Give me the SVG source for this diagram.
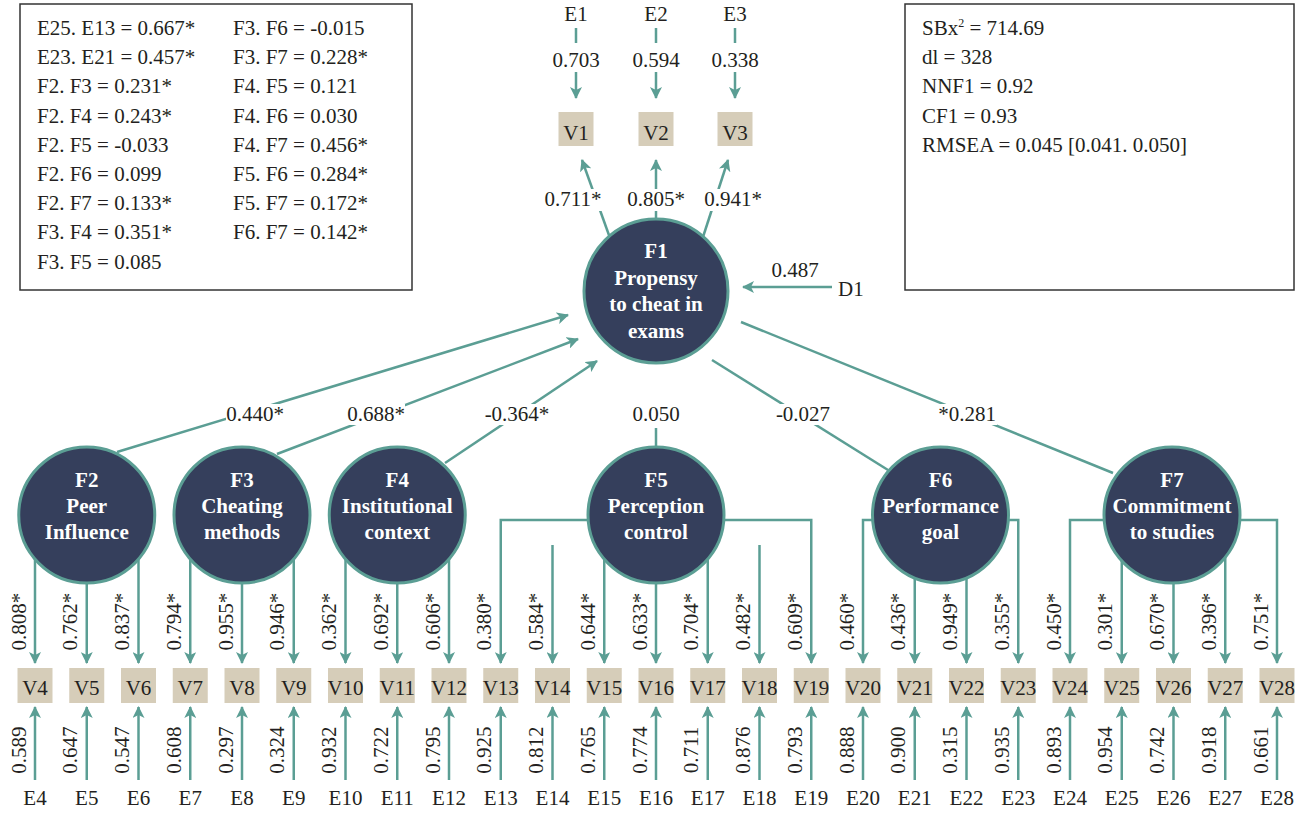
<svg xmlns="http://www.w3.org/2000/svg" width="1297" height="813" viewBox="0 0 1297 813">
<style>
.ln{stroke:#5b9e94;stroke-width:2.5;fill:none}
.ar{marker-end:url(#ah)}
.lat{fill:#353f5c;stroke:#5b9e94;stroke-width:3}
.obs{fill:#d6cdb9}
.t{font-family:"Liberation Serif","Times New Roman",serif;font-size:21px;fill:#231f20}
.c{text-anchor:middle}
.lt{font-family:"Liberation Serif","Times New Roman",serif;font-size:21px;font-weight:bold;fill:#fff;text-anchor:middle}
.box{fill:#fff;stroke:#333;stroke-width:1.5}
.bg{fill:#fff}
</style>
<defs>
<marker id="ah" markerUnits="userSpaceOnUse" markerWidth="14" markerHeight="12" refX="11" refY="6" orient="auto"><path d="M0,0 L12,6 L0,12 L3,6 Z" fill="#5b9e94"/></marker>
</defs>

<g id="covariances-box">
<rect class="box" x="20" y="4" width="392" height="286"/>
<g class="t">
<text x="37" y="35">E25. E13 = 0.667*</text>
<text x="37" y="64.2">E23. E21 = 0.457*</text>
<text x="37" y="93.4">F2. F3 = 0.231*</text>
<text x="37" y="122.6">F2. F4 = 0.243*</text>
<text x="37" y="151.8">F2. F5 = -0.033</text>
<text x="37" y="181">F2. F6 = 0.099</text>
<text x="37" y="210.2">F2. F7 = 0.133*</text>
<text x="37" y="239.4">F3. F4 = 0.351*</text>
<text x="37" y="268.6">F3. F5 = 0.085</text>
<text x="233" y="35">F3. F6 = -0.015</text>
<text x="233" y="64.2">F3. F7 = 0.228*</text>
<text x="233" y="93.4">F4. F5 = 0.121</text>
<text x="233" y="122.6">F4. F6 = 0.030</text>
<text x="233" y="151.8">F4. F7 = 0.456*</text>
<text x="233" y="181">F5. F6 = 0.284*</text>
<text x="233" y="210.2">F5. F7 = 0.172*</text>
<text x="233" y="239.4">F6. F7 = 0.142*</text>
</g>
</g>

<g id="fit-box">
<rect class="box" x="905" y="4" width="389" height="286"/>
<g class="t">
<text x="922" y="35">SBx<tspan font-size="12" dy="-8">2</tspan><tspan dy="8"> = 714.69</tspan></text>
<text x="922" y="64.2">dl = 328</text>
<text x="922" y="93.4">NNF1 = 0.92</text>
<text x="922" y="122.6">CF1 = 0.93</text>
<text x="922" y="151.8">RMSEA = 0.045 [0.041. 0.050]</text>
</g>
</g>

<g id="connectors">
<!-- E1-E3 to V1-V3 -->
<path class="ln" d="M576,28 V43"/>
<path class="ln ar" d="M576,72 V98"/>
<path class="ln" d="M656,28 V43"/>
<path class="ln ar" d="M656,72 V98"/>
<path class="ln" d="M735,28 V43"/>
<path class="ln ar" d="M735,72 V98"/>
<!-- F1 to V1-V3 -->
<path class="ln ar" d="M610,238 L582,160"/>
<path class="ln ar" d="M656,219 V160"/>
<path class="ln ar" d="M703,237 L728,160"/>
<!-- D1 -->
<path class="ln ar" d="M832,287 H743"/>
<!-- structural paths -->
<path class="ln ar" d="M117,452 L568,315"/>
<path class="ln ar" d="M277,454 L578,339"/>
<path class="ln ar" d="M445,463 L597,361"/>
<path class="ln" d="M656,428 V447"/>
<path class="ln" d="M712,360 L888,470"/>
<path class="ln" d="M741,322 L1113,473"/>
<!-- loadings F2 -->
<path class="ln ar" d="M35,515 V663"/>
<path class="ln ar" d="M86.75,515 V663"/>
<path class="ln ar" d="M138.5,515 V663"/>
<!-- F3 -->
<path class="ln ar" d="M190.25,515 V663"/>
<path class="ln ar" d="M242,515 V663"/>
<path class="ln ar" d="M293.75,515 V663"/>
<!-- F4 -->
<path class="ln ar" d="M345.5,515 V663"/>
<path class="ln ar" d="M397.25,515 V663"/>
<path class="ln ar" d="M449,515 V663"/>
<!-- F5 -->
<path class="ln ar" d="M656,520 H500.75 V663"/>
<path class="ln ar" d="M552.5,545 V663"/>
<path class="ln ar" d="M604.25,515 V663"/>
<path class="ln ar" d="M656,515 V663"/>
<path class="ln ar" d="M707.75,515 V663"/>
<path class="ln ar" d="M759.5,545 V663"/>
<path class="ln ar" d="M656,520 H811.25 V663"/>
<!-- F6 -->
<path class="ln ar" d="M940,520 H863 V663"/>
<path class="ln ar" d="M914.75,515 V663"/>
<path class="ln ar" d="M966.5,515 V663"/>
<path class="ln ar" d="M940,520 H1018.25 V663"/>
<!-- F7 -->
<path class="ln ar" d="M1173.5,520 H1070 V663"/>
<path class="ln ar" d="M1121.75,515 V663"/>
<path class="ln ar" d="M1173.5,515 V663"/>
<path class="ln ar" d="M1225.25,515 V663"/>
<path class="ln ar" d="M1173.5,520 H1277 V663"/>
<!-- errors -->
<path class="ln ar" d="M35,780 V707"/>
<path class="ln ar" d="M86.75,780 V707"/>
<path class="ln ar" d="M138.5,780 V707"/>
<path class="ln ar" d="M190.25,780 V707"/>
<path class="ln ar" d="M242,780 V707"/>
<path class="ln ar" d="M293.75,780 V707"/>
<path class="ln ar" d="M345.5,780 V707"/>
<path class="ln ar" d="M397.25,780 V707"/>
<path class="ln ar" d="M449,780 V707"/>
<path class="ln ar" d="M500.75,780 V707"/>
<path class="ln ar" d="M552.5,780 V707"/>
<path class="ln ar" d="M604.25,780 V707"/>
<path class="ln ar" d="M656,780 V707"/>
<path class="ln ar" d="M707.75,780 V707"/>
<path class="ln ar" d="M759.5,780 V707"/>
<path class="ln ar" d="M811.25,780 V707"/>
<path class="ln ar" d="M863,780 V707"/>
<path class="ln ar" d="M914.75,780 V707"/>
<path class="ln ar" d="M966.5,780 V707"/>
<path class="ln ar" d="M1018.25,780 V707"/>
<path class="ln ar" d="M1070,780 V707"/>
<path class="ln ar" d="M1121.75,780 V707"/>
<path class="ln ar" d="M1173.5,780 V707"/>
<path class="ln ar" d="M1225.25,780 V707"/>
<path class="ln ar" d="M1277,780 V707"/>

<!-- connector labels -->
<g class="t c">
<text x="576" y="67">0.703</text>
<text x="656" y="67">0.594</text>
<text x="735" y="67">0.338</text>
<rect class="bg" x="545" y="189" width="57" height="22"/>
<rect class="bg" x="628" y="189" width="57" height="22"/>
<rect class="bg" x="705" y="189" width="57" height="22"/>
<text x="573" y="206">0.711*</text>
<text x="656" y="206">0.805*</text>
<text x="733" y="206">0.941*</text>
<text x="795" y="277">0.487</text>
<rect class="bg" x="226" y="404" width="58" height="21"/>
<rect class="bg" x="347" y="404" width="58" height="21"/>
<rect class="bg" x="484" y="404" width="66" height="21"/>
<rect class="bg" x="775" y="404" width="56" height="21"/>
<rect class="bg" x="937" y="404" width="60" height="21"/>
<text x="255" y="421">0.440*</text>
<text x="376" y="421">0.688*</text>
<text x="517" y="421">-0.364*</text>
<text x="656" y="421">0.050</text>
<text x="803" y="421">-0.027</text>
<text x="967" y="421">*0.281</text>
</g>
<g class="t c">
<text transform="translate(25.5,621.5) rotate(-90)">0.808*</text>
<text transform="translate(77.25,621.5) rotate(-90)">0.762*</text>
<text transform="translate(129,621.5) rotate(-90)">0.837*</text>
<text transform="translate(180.75,621.5) rotate(-90)">0.794*</text>
<text transform="translate(232.5,621.5) rotate(-90)">0.955*</text>
<text transform="translate(284.25,621.5) rotate(-90)">0.946*</text>
<text transform="translate(336,621.5) rotate(-90)">0.362*</text>
<text transform="translate(387.75,621.5) rotate(-90)">0.692*</text>
<text transform="translate(439.5,621.5) rotate(-90)">0.606*</text>
<text transform="translate(491.25,621.5) rotate(-90)">0.380*</text>
<text transform="translate(543,621.5) rotate(-90)">0.584*</text>
<text transform="translate(594.75,621.5) rotate(-90)">0.644*</text>
<text transform="translate(646.5,621.5) rotate(-90)">0.633*</text>
<text transform="translate(698.25,621.5) rotate(-90)">0.704*</text>
<text transform="translate(750,621.5) rotate(-90)">0.482*</text>
<text transform="translate(801.75,621.5) rotate(-90)">0.609*</text>
<text transform="translate(853.5,621.5) rotate(-90)">0.460*</text>
<text transform="translate(905.25,621.5) rotate(-90)">0.436*</text>
<text transform="translate(957,621.5) rotate(-90)">0.949*</text>
<text transform="translate(1008.75,621.5) rotate(-90)">0.355*</text>
<text transform="translate(1060.5,621.5) rotate(-90)">0.450*</text>
<text transform="translate(1112.25,621.5) rotate(-90)">0.301*</text>
<text transform="translate(1164,621.5) rotate(-90)">0.670*</text>
<text transform="translate(1215.75,621.5) rotate(-90)">0.396*</text>
<text transform="translate(1267.5,621.5) rotate(-90)">0.751*</text>
<text transform="translate(25.5,750) rotate(-90)">0.589</text>
<text transform="translate(77.25,750) rotate(-90)">0.647</text>
<text transform="translate(129,750) rotate(-90)">0.547</text>
<text transform="translate(180.75,750) rotate(-90)">0.608</text>
<text transform="translate(232.5,750) rotate(-90)">0.297</text>
<text transform="translate(284.25,750) rotate(-90)">0.324</text>
<text transform="translate(336,750) rotate(-90)">0.932</text>
<text transform="translate(387.75,750) rotate(-90)">0.722</text>
<text transform="translate(439.5,750) rotate(-90)">0.795</text>
<text transform="translate(491.25,750) rotate(-90)">0.925</text>
<text transform="translate(543,750) rotate(-90)">0.812</text>
<text transform="translate(594.75,750) rotate(-90)">0.765</text>
<text transform="translate(646.5,750) rotate(-90)">0.774</text>
<text transform="translate(698.25,750) rotate(-90)">0.711</text>
<text transform="translate(750,750) rotate(-90)">0.876</text>
<text transform="translate(801.75,750) rotate(-90)">0.793</text>
<text transform="translate(853.5,750) rotate(-90)">0.888</text>
<text transform="translate(905.25,750) rotate(-90)">0.900</text>
<text transform="translate(957,750) rotate(-90)">0.315</text>
<text transform="translate(1008.75,750) rotate(-90)">0.935</text>
<text transform="translate(1060.5,750) rotate(-90)">0.893</text>
<text transform="translate(1112.25,750) rotate(-90)">0.954</text>
<text transform="translate(1164,750) rotate(-90)">0.742</text>
<text transform="translate(1215.75,750) rotate(-90)">0.918</text>
<text transform="translate(1267.5,750) rotate(-90)">0.661</text>
</g>
</g>

<g id="F1"><circle class="lat" cx="656" cy="291" r="72"/>
<text class="lt" x="656" y="258">F1</text><text class="lt" x="656" y="284.5">Propensy</text><text class="lt" x="656" y="311">to cheat in</text><text class="lt" x="656" y="337.5">exams</text></g>
<g id="F2"><circle class="lat" cx="86.75" cy="515" r="68"/>
<text class="lt" x="86.75" y="487">F2</text><text class="lt" x="86.75" y="513">Peer</text><text class="lt" x="86.75" y="539">Influence</text></g>
<g id="F3"><circle class="lat" cx="242" cy="515" r="68"/>
<text class="lt" x="242" y="487">F3</text><text class="lt" x="242" y="513">Cheating</text><text class="lt" x="242" y="539">methods</text></g>
<g id="F4"><circle class="lat" cx="397.25" cy="515" r="68"/>
<text class="lt" x="397.25" y="487">F4</text><text class="lt" x="397.25" y="513">Institutional</text><text class="lt" x="397.25" y="539">context</text></g>
<g id="F5"><circle class="lat" cx="656" cy="515" r="68"/>
<text class="lt" x="656" y="487">F5</text><text class="lt" x="656" y="513">Perception</text><text class="lt" x="656" y="539">control</text></g>
<g id="F6"><circle class="lat" cx="940.5" cy="515" r="68"/>
<text class="lt" x="940.5" y="487">F6</text><text class="lt" x="940.5" y="513">Performance</text><text class="lt" x="940.5" y="539">goal</text></g>
<g id="F7"><circle class="lat" cx="1172" cy="515" r="68"/>
<text class="lt" x="1172" y="487">F7</text><text class="lt" x="1172" y="513">Commitment</text><text class="lt" x="1172" y="539">to studies</text></g>

<g id="D1"><text class="t" x="838" y="296">D1</text></g>

<g id="top-errors" class="t c">
<g id="E1"><text x="576" y="21">E1</text></g>
<g id="E2"><text x="656" y="21">E2</text></g>
<g id="E3"><text x="735" y="21">E3</text></g>
</g>

<g id="V1"><rect class="obs" x="558.5" y="112" width="35" height="34"/><text class="t c" x="576" y="140">V1</text></g>
<g id="V2"><rect class="obs" x="638.5" y="112" width="35" height="34"/><text class="t c" x="656" y="140">V2</text></g>
<g id="V3"><rect class="obs" x="717.5" y="112" width="35" height="34"/><text class="t c" x="735" y="140">V3</text></g>

<g id="V4"><rect class="obs" x="17.5" y="668" width="35" height="35"/><text class="t c" x="35" y="695">V4</text></g>
<g id="V5"><rect class="obs" x="69.25" y="668" width="35" height="35"/><text class="t c" x="86.75" y="695">V5</text></g>
<g id="V6"><rect class="obs" x="121" y="668" width="35" height="35"/><text class="t c" x="138.5" y="695">V6</text></g>
<g id="V7"><rect class="obs" x="172.75" y="668" width="35" height="35"/><text class="t c" x="190.25" y="695">V7</text></g>
<g id="V8"><rect class="obs" x="224.5" y="668" width="35" height="35"/><text class="t c" x="242" y="695">V8</text></g>
<g id="V9"><rect class="obs" x="276.25" y="668" width="35" height="35"/><text class="t c" x="293.75" y="695">V9</text></g>
<g id="V10"><rect class="obs" x="328" y="668" width="35" height="35"/><text class="t c" x="345.5" y="695">V10</text></g>
<g id="V11"><rect class="obs" x="379.75" y="668" width="35" height="35"/><text class="t c" x="397.25" y="695">V11</text></g>
<g id="V12"><rect class="obs" x="431.5" y="668" width="35" height="35"/><text class="t c" x="449" y="695">V12</text></g>
<g id="V13"><rect class="obs" x="483.25" y="668" width="35" height="35"/><text class="t c" x="500.75" y="695">V13</text></g>
<g id="V14"><rect class="obs" x="535" y="668" width="35" height="35"/><text class="t c" x="552.5" y="695">V14</text></g>
<g id="V15"><rect class="obs" x="586.75" y="668" width="35" height="35"/><text class="t c" x="604.25" y="695">V15</text></g>
<g id="V16"><rect class="obs" x="638.5" y="668" width="35" height="35"/><text class="t c" x="656" y="695">V16</text></g>
<g id="V17"><rect class="obs" x="690.25" y="668" width="35" height="35"/><text class="t c" x="707.75" y="695">V17</text></g>
<g id="V18"><rect class="obs" x="742" y="668" width="35" height="35"/><text class="t c" x="759.5" y="695">V18</text></g>
<g id="V19"><rect class="obs" x="793.75" y="668" width="35" height="35"/><text class="t c" x="811.25" y="695">V19</text></g>
<g id="V20"><rect class="obs" x="845.5" y="668" width="35" height="35"/><text class="t c" x="863" y="695">V20</text></g>
<g id="V21"><rect class="obs" x="897.25" y="668" width="35" height="35"/><text class="t c" x="914.75" y="695">V21</text></g>
<g id="V22"><rect class="obs" x="949" y="668" width="35" height="35"/><text class="t c" x="966.5" y="695">V22</text></g>
<g id="V23"><rect class="obs" x="1000.75" y="668" width="35" height="35"/><text class="t c" x="1018.25" y="695">V23</text></g>
<g id="V24"><rect class="obs" x="1052.5" y="668" width="35" height="35"/><text class="t c" x="1070" y="695">V24</text></g>
<g id="V25"><rect class="obs" x="1104.25" y="668" width="35" height="35"/><text class="t c" x="1121.75" y="695">V25</text></g>
<g id="V26"><rect class="obs" x="1156" y="668" width="35" height="35"/><text class="t c" x="1173.5" y="695">V26</text></g>
<g id="V27"><rect class="obs" x="1207.75" y="668" width="35" height="35"/><text class="t c" x="1225.25" y="695">V27</text></g>
<g id="V28"><rect class="obs" x="1259.5" y="668" width="35" height="35"/><text class="t c" x="1277" y="695">V28</text></g>

<g id="bottom-errors" class="t c">
<g id="E4"><text x="35" y="805">E4</text></g>
<g id="E5"><text x="86.75" y="805">E5</text></g>
<g id="E6"><text x="138.5" y="805">E6</text></g>
<g id="E7"><text x="190.25" y="805">E7</text></g>
<g id="E8"><text x="242" y="805">E8</text></g>
<g id="E9"><text x="293.75" y="805">E9</text></g>
<g id="E10"><text x="345.5" y="805">E10</text></g>
<g id="E11"><text x="397.25" y="805">E11</text></g>
<g id="E12"><text x="449" y="805">E12</text></g>
<g id="E13"><text x="500.75" y="805">E13</text></g>
<g id="E14"><text x="552.5" y="805">E14</text></g>
<g id="E15"><text x="604.25" y="805">E15</text></g>
<g id="E16"><text x="656" y="805">E16</text></g>
<g id="E17"><text x="707.75" y="805">E17</text></g>
<g id="E18"><text x="759.5" y="805">E18</text></g>
<g id="E19"><text x="811.25" y="805">E19</text></g>
<g id="E20"><text x="863" y="805">E20</text></g>
<g id="E21"><text x="914.75" y="805">E21</text></g>
<g id="E22"><text x="966.5" y="805">E22</text></g>
<g id="E23"><text x="1018.25" y="805">E23</text></g>
<g id="E24"><text x="1070" y="805">E24</text></g>
<g id="E25"><text x="1121.75" y="805">E25</text></g>
<g id="E26"><text x="1173.5" y="805">E26</text></g>
<g id="E27"><text x="1225.25" y="805">E27</text></g>
<g id="E28"><text x="1277" y="805">E28</text></g>
</g>
</svg>
